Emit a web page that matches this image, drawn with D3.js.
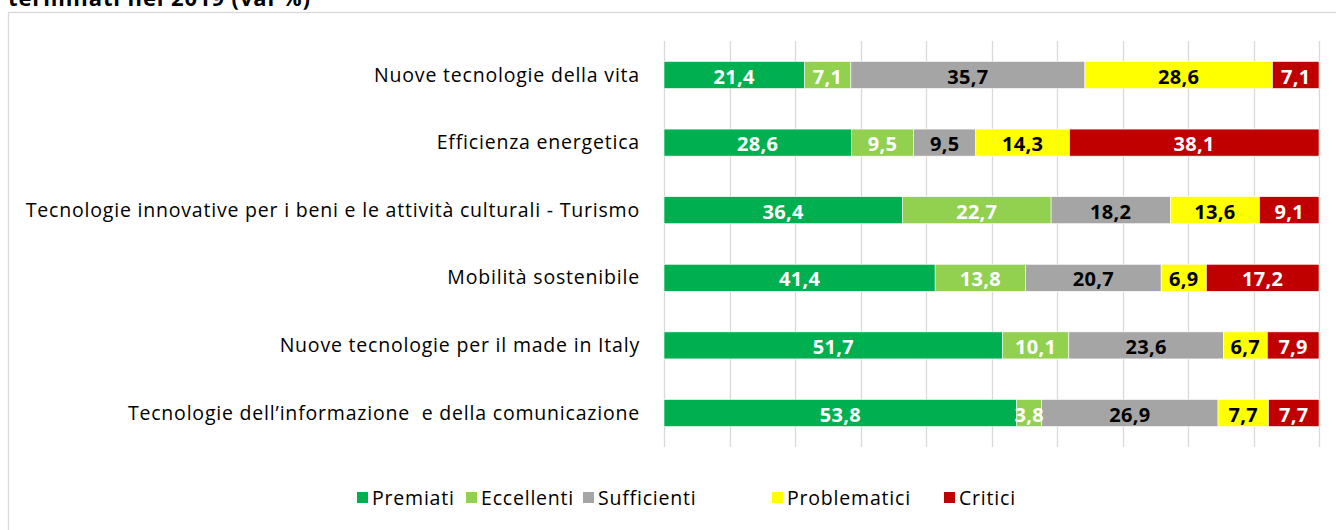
<!DOCTYPE html>
<html lang="it">
<head>
  <meta charset="UTF-8">
  <title>Progetti terminati nel 2019</title>
  <script src="https://d3js.org/d3.v7.min.js"></script>
  <style>
    body { margin: 0; background: #fff; font-family: "Open Sans", sans-serif; }
  </style>
</head>
<body>
  <div id="chart"></div>
  <script>
    // data (top row first)
    const categories = [
      "Nuove tecnologie della vita",
      "Efficienza energetica",
      "Tecnologie innovative per i beni e le attività culturali - Turismo",
      "Mobilità sostenibile",
      "Nuove tecnologie per il made in Italy",
      "Tecnologie dell\u2019informazione  e della comunicazione"
    ];
    const seriesNames = ["Premiati", "Eccellenti", "Sufficienti", "Problematici", "Critici"];
    const premiati     = [21.4, 28.6, 36.4, 41.4, 51.7, 53.8];
    const eccellenti   = [7.1, 9.5, 22.7, 13.8, 10.1, 3.8];
    const sufficienti  = [35.7, 9.5, 18.2, 20.7, 23.6, 26.9];
    const problematici = [28.6, 14.3, 13.6, 6.9, 6.7, 7.7];
    const critici      = [7.1, 38.1, 9.1, 17.2, 7.9, 7.7];
    const colors = ["#00b050", "#92d050", "#a5a5a5", "#ffff00", "#c00000"];
    const labelColors = ["#fff", "#fff", "#000", "#000", "#fff"];

    const seriesValues = [premiati, eccellenti, sufficienti, problematici, critici];
    const rows = categories.map((c, i) => {
      const r = { cat: c };
      seriesNames.forEach((s, j) => r[s] = seriesValues[j][i]);
      return r;
    });

    const width = 1336, height = 530;
    const svg = d3.select("#chart").append("svg")
      .attr("width", width).attr("height", height);

    // title (cut off at top in the original)
    svg.append("text")
      .attr("x", 8).attr("y", 6)
      .attr("font-size", 22).attr("font-weight", "bold").attr("fill", "#000")
      .attr("letter-spacing", 0.9)
      .text("terminati nel 2019 (val %)");

    // chart frame
    svg.append("rect")
      .attr("x", 8.5).attr("y", 12.5).attr("width", 1340).attr("height", 540)
      .attr("fill", "none").attr("stroke", "#d9d9d9").attr("stroke-width", 1.3);

    const x = d3.scaleLinear().domain([0, 1]).range([664, 1319]);
    const y = d3.scaleBand().domain(categories).range([41.2, 446.8])
      .paddingInner(0.6).paddingOuter(0.3);

    // gridlines
    svg.append("g").selectAll("line")
      .data(d3.range(0, 1.0001, 0.1))
      .join("line")
      .attr("x1", d => Math.round(x(d)) + 0.5).attr("x2", d => Math.round(x(d)) + 0.5)
      .attr("y1", 41).attr("y2", 447)
      .attr("stroke", "#d9d9d9").attr("stroke-width", 1.3);

    const stack = d3.stack().keys(seriesNames).offset(d3.stackOffsetExpand);
    const stacked = stack(rows);

    const layers = svg.append("g").selectAll("g")
      .data(stacked)
      .join("g")
      .attr("fill", (d, i) => colors[i]);

    layers.selectAll("rect")
      .data(d => d)
      .join("rect")
      .attr("x", d => x(d[0]))
      .attr("y", d => y(d.data.cat))
      .attr("width", d => x(d[1]) - x(d[0]))
      .attr("height", y.bandwidth())
      .attr("stroke", "#fff").attr("stroke-width", 0.6);

    // value labels
    svg.append("g").selectAll("g")
      .data(stacked)
      .join("g")
      .attr("fill", (d, i) => labelColors[i])
      .selectAll("text")
      .data(d => d.map(v => ({ v, key: d.key })))
      .join("text")
      .attr("x", d => (x(d.v[0]) + x(d.v[1])) / 2)
      .attr("y", d => y(d.v.data.cat) + y.bandwidth() / 2 + 8.5)
      .attr("text-anchor", "middle")
      .attr("font-size", 20).attr("font-weight", "bold")
      .attr("letter-spacing", 0.3)
      .text(d => d3.format(".1f")(d.v.data[d.key]).replace(".", ","));

    // category labels
    svg.append("g").selectAll("text")
      .data(categories)
      .join("text")
      .attr("x", 640)
      .attr("y", d => y(d) + y.bandwidth() / 2 + 6.5)
      .attr("text-anchor", "end")
      .attr("font-size", 19.5).attr("fill", "#000")
      .attr("letter-spacing", 0.8)
      .style("white-space", "pre")
      .text(d => d);

    // legend
    const legendX = [357, 466, 583, 772, 944];
    const legend = svg.append("g").selectAll("g")
      .data(seriesNames)
      .join("g")
      .attr("transform", (d, i) => `translate(${legendX[i]},492)`);
    legend.append("rect")
      .attr("width", 11).attr("height", 11)
      .attr("fill", (d, i) => colors[i]);
    legend.append("text")
      .attr("x", 15).attr("y", 12.5)
      .attr("font-size", 19.5).attr("fill", "#000")
      .attr("letter-spacing", 0.8)
      .text(d => d);
  </script>
</body>
</html>
